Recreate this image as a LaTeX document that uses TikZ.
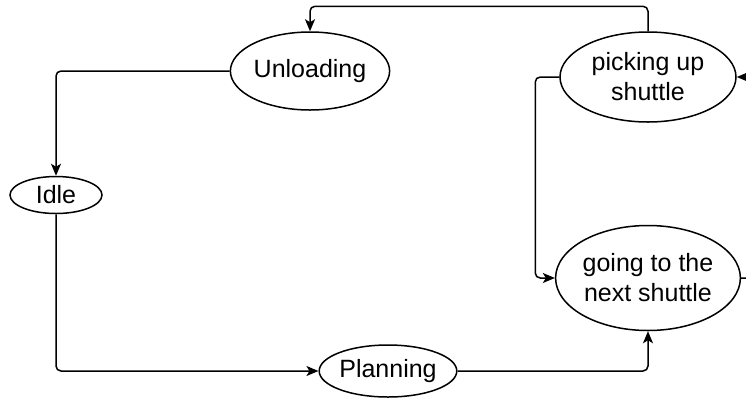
\documentclass[tikz,border=0pt]{standalone}
\usepackage{fontspec}
\setmainfont{Liberation Sans}
\usetikzlibrary{arrows.meta,shapes.geometric}
\tikzset{
  state/.style={ellipse, draw=black, fill=white, line width=0.75pt, inner sep=0pt,
                align=center, font=\fontsize{12.5}{15}\selectfont},
  flow/.style ={-{Stealth[length=6pt, width=5pt, inset=1.5pt]}, line width=0.75pt,
                rounded corners=2.5pt},
}

\begin{document}
\begin{tikzpicture}[x=0.5pt, y=-0.5pt]
  \useasboundingbox (0,0) rectangle (746,398);
  % the five states of the shuttle cycle
  \node[state, minimum width=78pt, minimum height=39pt](unload) at (310,71){Unloading};
  \node[state, minimum width=46pt, minimum height=18.5pt](idle) at (56,195){Idle};
  \node[state, minimum width=65pt, minimum height=26pt](plan) at (388,371){Planning};
  \node[state, minimum width=88pt, minimum height=45pt](pick) at (648,77){picking up\\shuttle};
  \node[state, minimum width=78.5pt, minimum height=52.5pt](goto) at (648,278){going to the\\next shuttle};
  % transitions
  \draw[flow] (pick.north) -- ++(0,-25) -| (unload.north);
  \draw[flow] (unload.west) -| (idle.north);
  \draw[flow] (idle.south) |- (plan.west);
  \draw[flow] (plan.east) -| (goto.south);
  \draw[flow] (pick.west) -- ++(-24,0) |- (goto.west);
  \draw[flow] (goto.east) -- ++(34,0) |- (pick.east);
\end{tikzpicture}
\end{document}
